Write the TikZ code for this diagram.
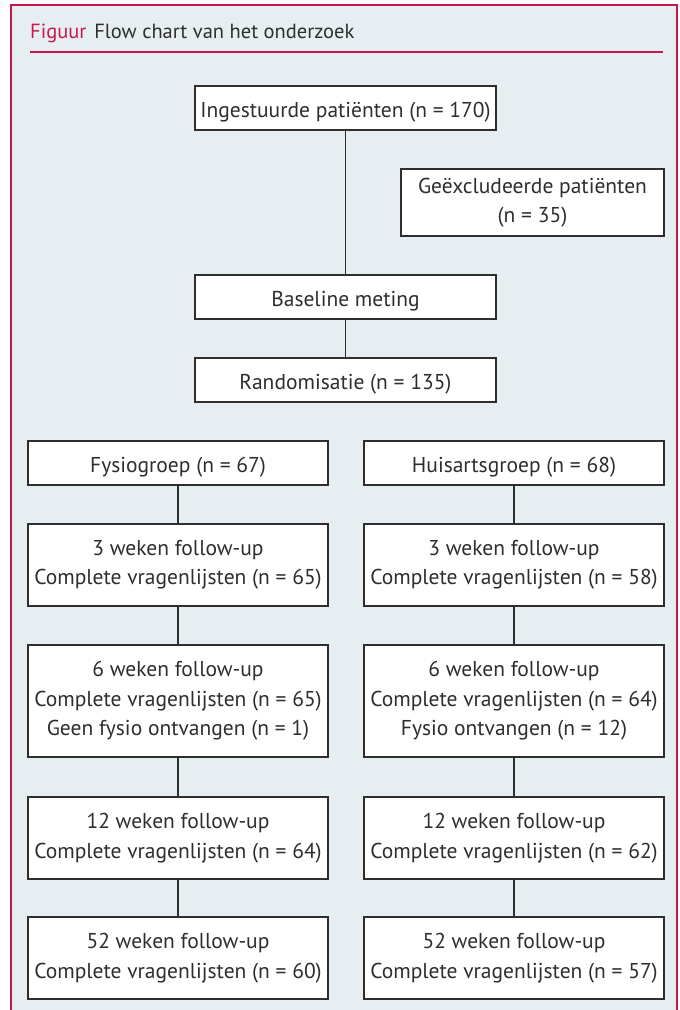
\documentclass[tikz,border=0pt]{standalone}
\usepackage{fontspec}
\setmainfont{PT Sans}
\definecolor{frame}{HTML}{C8174B}
\definecolor{panel}{HTML}{E6EEF1}
\definecolor{ink}{HTML}{2E2E2E}

\begin{document}
\begin{tikzpicture}[x=1pt,y=-1pt,
		box/.style={draw=ink,line width=1.3pt,fill=white,align=center,inner sep=0pt,
			font=\fontsize{21.5}{29.5}\selectfont,text=ink,
			execute at begin node={\rule{0pt}{24pt}}},
		link/.style={draw=ink,line width=1.3pt}]
		\useasboundingbox (0,0) rectangle (680,1010);
		\fill[panel] (11,5) rectangle (677,1010);
		\draw[frame,line width=2.5pt] (11,1010)--(11,5)--(677,5)--(677,1010);
		
		\node[anchor=base west,inner sep=0pt,font=\fontsize{20.5}{24}\selectfont,text=ink] (title) at (30,38)
			{\textcolor{frame}{Figuur}\hspace{8pt}Flow chart van het onderzoek};
		\draw[frame,line width=1.3pt] (30,52)--(663,52);
		
		\node[box,minimum width=301pt,minimum height=44pt] (ing) at (345.5,108) {Ingestuurde patiënten (n = 170)};
		\node[box,minimum width=263pt,minimum height=67pt] (excl) at (532.5,202.5) {Geëxcludeerde patiënten\\(n = 35)};
		\node[box,minimum width=301pt,minimum height=44pt] (base) at (345.5,297) {Baseline meting};
		\node[box,minimum width=301pt,minimum height=44pt] (rand) at (345.5,380) {Randomisatie (n = 135)};
		
		\node[box,minimum width=300pt,minimum height=44pt] (fys) at (178,463) {Fysiogroep (n = 67)};
		\node[box,minimum width=300pt,minimum height=82pt] (fysA) at (178,565) {3 weken follow-up\\Complete vragenlijsten (n = 65)};
		\node[box,minimum width=300pt,minimum height=112pt] (fysB) at (178,701) {6 weken follow-up\\Complete vragenlijsten (n = 65)\\Geen fysio ontvangen (n = 1)};
		\node[box,minimum width=300pt,minimum height=82pt] (fysC) at (178,838) {12 weken follow-up\\Complete vragenlijsten (n = 64)};
		\node[box,minimum width=300pt,minimum height=82pt] (fysD) at (178,958) {52 weken follow-up\\Complete vragenlijsten (n = 60)};
		
		\node[box,minimum width=300pt,minimum height=44pt] (huis) at (514,463) {Huisartsgroep (n = 68)};
		\node[box,minimum width=300pt,minimum height=82pt] (huisA) at (514,565) {3 weken follow-up\\Complete vragenlijsten (n = 58)};
		\node[box,minimum width=300pt,minimum height=112pt] (huisB) at (514,701) {6 weken follow-up\\Complete vragenlijsten (n = 64)\\Fysio ontvangen (n = 12)};
		\node[box,minimum width=300pt,minimum height=82pt] (huisC) at (514,838) {12 weken follow-up\\Complete vragenlijsten (n = 62)};
		\node[box,minimum width=300pt,minimum height=82pt] (huisD) at (514,958) {52 weken follow-up\\Complete vragenlijsten (n = 57)};
		
		\draw[link] (ing)--(base);
		\draw[link] (base)--(rand);
		\draw[link] (fys)--(fysA);
		\draw[link] (fysA)--(fysB);
		\draw[link] (fysB)--(fysC);
		\draw[link] (fysC)--(fysD);
		\draw[link] (huis)--(huisA);
		\draw[link] (huisA)--(huisB);
		\draw[link] (huisB)--(huisC);
		\draw[link] (huisC)--(huisD);
	\end{tikzpicture}
\end{document}
